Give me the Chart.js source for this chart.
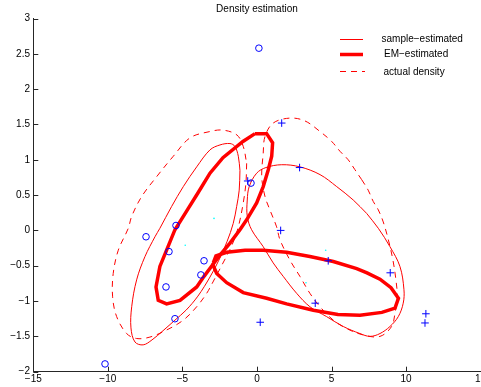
<!DOCTYPE html>
<html><head><meta charset="utf-8">
<script src="https://cdn.jsdelivr.net/npm/chart.js@4"></script>
<style>html,body{margin:0;padding:0;background:#fff;overflow:hidden}canvas{display:block}</style>
</head><body>
<canvas id="c" width="481" height="387"></canvas>
<script>
const titleText = 'Density estimation';
const legendLabels = ['sample\u2212estimated', 'EM\u2212estimated', 'actual density'];
const xTicks = [-15, -10, -5, 0, 5, 10, 15];
const yTicks = [-2, -1.5, -1, -0.5, 0, 0.5, 1, 1.5, 2, 2.5, 3];

const circles = [[0.13,2.58],[-7.44,-0.09],[-5.43,0.07],[-5.90,-0.30],[-3.55,-0.43],[-3.76,-0.63],[-6.10,-0.80],[-5.50,-1.25],[-10.19,-1.89],[-0.40,0.67]];
const pluses = [[1.66,1.52],[2.86,0.89],[-0.62,0.70],[1.59,0.00],[4.78,-0.43],[8.94,-0.60],[3.91,-1.03],[11.27,-1.31],[11.33,-1.18],[0.22,-1.30]];
const dots = [[-2.88,0.17],[-4.81,-0.21],[4.61,-0.28],[3.29,-0.74]];

const sampleLeft = [[-1.14,0.85],[-1.19,0.57],[-1.36,0.34],[-1.59,0.10],[-2.01,-0.16],[-2.55,-0.42],[-3.15,-0.66],[-3.96,-0.93],[-4.76,-1.13],[-5.50,-1.27],[-6.30,-1.42],[-7.04,-1.55],[-7.63,-1.62],[-8.18,-1.58],[-8.45,-1.38],[-8.40,-1.08],[-8.07,-0.70],[-7.51,-0.37],[-6.84,-0.09],[-6.51,0.03],[-5.72,0.34],[-4.94,0.62],[-4.04,0.90],[-3.15,1.14],[-2.48,1.21],[-1.81,1.23],[-1.48,1.19],[-1.25,1.05],[-1.14,0.85]];
const sampleRight = [[7.36,0.24],[8.14,0.03],[8.92,-0.23],[9.59,-0.51],[9.86,-0.84],[9.81,-1.03],[9.48,-1.22],[8.92,-1.36],[8.25,-1.46],[7.58,-1.50],[6.91,-1.46],[5.79,-1.36],[4.67,-1.22],[3.55,-1.08],[2.66,-0.89],[1.76,-0.65],[1.09,-0.46],[0.42,-0.23],[-0.36,0.01],[-0.65,0.20],[-0.65,0.43],[-0.52,0.62],[-0.02,0.81],[0.60,0.89],[1.66,0.93],[2.88,0.90],[4.23,0.79],[5.35,0.62],[6.46,0.43],[7.36,0.24]];
const emLeft = [[-0.13,1.37],[0.65,1.37],[1.05,1.24],[0.99,1.05],[0.76,0.86],[0.42,0.62],[-0.02,0.39],[-0.69,0.15],[-1.14,0.01],[-1.81,-0.18],[-2.48,-0.35],[-3.02,-0.50],[-3.55,-0.65],[-4.04,-0.80],[-5.16,-0.99],[-6.06,-1.04],[-6.62,-0.99],[-6.77,-0.80],[-6.51,-0.51],[-6.06,-0.28],[-5.50,0.01],[-4.76,0.26],[-3.96,0.53],[-3.15,0.81],[-2.28,1.03],[-0.94,1.26],[-0.13,1.37]];
const emRight = [[-2.93,-0.46],[-2.75,-0.36],[-2.03,-0.31],[-0.80,-0.28],[0.42,-0.28],[1.99,-0.31],[3.55,-0.37],[5.12,-0.44],[6.69,-0.54],[7.38,-0.60],[8.25,-0.69],[8.99,-0.81],[9.49,-0.96],[9.26,-1.10],[8.38,-1.16],[6.91,-1.20],[5.43,-1.19],[3.78,-1.13],[1.99,-1.04],[0.65,-0.96],[-0.92,-0.88],[-2.03,-0.74],[-2.70,-0.61],[-2.93,-0.50],[-2.93,-0.46]];
const actualLeft = [[-0.69,0.95],[-0.74,0.67],[-0.92,0.39],[-1.25,0.05],[-1.68,-0.21],[-2.35,-0.49],[-2.95,-0.73],[-3.37,-0.89],[-4.04,-1.08],[-4.94,-1.27],[-6.06,-1.41],[-7.18,-1.51],[-8.07,-1.53],[-8.74,-1.46],[-9.41,-1.22],[-9.68,-0.94],[-9.64,-0.61],[-9.30,-0.28],[-8.63,0.03],[-8.40,0.20],[-7.73,0.48],[-6.73,0.76],[-5.61,1.05],[-4.49,1.31],[-3.15,1.40],[-2.28,1.42],[-1.34,1.35],[-0.92,1.19],[-0.69,0.95]];
const actualRight = [[7.02,0.72],[7.46,0.57],[7.80,0.41],[8.14,0.29],[8.47,0.12],[8.81,-0.13],[9.12,-0.42],[9.32,-0.70],[9.41,-0.94],[9.26,-1.17],[9.03,-1.36],[8.25,-1.50],[7.13,-1.48],[6.02,-1.39],[5.12,-1.27],[4.23,-1.08],[3.55,-0.89],[2.88,-0.65],[2.21,-0.42],[1.54,-0.13],[1.32,0.05],[0.87,0.29],[0.54,0.48],[0.32,0.76],[0.42,1.09],[0.54,1.33],[1.09,1.52],[2.21,1.59],[3.22,1.55],[4.23,1.40],[5.01,1.26],[5.57,1.12],[6.12,1.00],[6.57,0.86],[7.02,0.72]];

const RED = '#ff0000', BLUE = '#0000ff', CYAN = '#00ffff';
const toPts = arr => arr.map(p => ({x: p[0], y: p[1]}));
const fmt = v => String(v).replace('-', '\u2212');

Chart.defaults.font.family = '"Liberation Sans", Arial, Helvetica, sans-serif';
Chart.defaults.font.size = 10;
Chart.defaults.color = '#000';

const curve = (data, width, dash, tension) => ({
  data: toPts(data), showLine: true, pointRadius: 0, pointHoverRadius: 0, borderColor: RED, backgroundColor: RED,
  borderWidth: width, borderDash: dash, tension: tension, fill: false
});

const deco = {
  id: 'deco',
  afterDraw(chart) {
    const ctx = chart.ctx, a = chart.chartArea, xs = chart.scales.x, ys = chart.scales.y;
    ctx.save();
    ctx.strokeStyle = '#262626'; ctx.lineWidth = 1;
    ctx.beginPath();
    yTicks.forEach(v => { const p = Math.round(ys.getPixelForValue(v)) + 0.5; ctx.moveTo(a.left, p); ctx.lineTo(a.left + 5, p); });
    xTicks.forEach(v => { const p = Math.round(xs.getPixelForValue(v)) + 0.5; ctx.moveTo(p, a.bottom); ctx.lineTo(p, a.bottom - 5); });
    ctx.stroke();
    ctx.fillStyle = '#000';
    ctx.font = '10px "Liberation Sans", Arial, sans-serif';
    ctx.textAlign = 'center'; ctx.textBaseline = 'middle';
    ctx.fillText(titleText, (a.left + a.right) / 2, 9);
    // legend
    ctx.strokeStyle = RED;
    ctx.lineWidth = 1; ctx.setLineDash([]);
    ctx.beginPath(); ctx.moveTo(340, 39.5); ctx.lineTo(363, 39.5); ctx.stroke();
    ctx.lineWidth = 3.5;
    ctx.beginPath(); ctx.moveTo(340, 54.5); ctx.lineTo(363, 54.5); ctx.stroke();
    ctx.lineWidth = 1; ctx.setLineDash([6, 5]);
    ctx.beginPath(); ctx.moveTo(340, 71.5); ctx.lineTo(365, 71.5); ctx.stroke();
    ctx.setLineDash([]);
    ctx.textAlign = 'left';
    ctx.fillText(legendLabels[0], 381.5, 39);
    ctx.fillText(legendLabels[1], 384, 54);
    ctx.fillText(legendLabels[2], 383.5, 72.3);
    ctx.restore();
  }
};

new Chart(document.getElementById('c'), {
  type: 'scatter',
  data: {
    datasets: [
      {data: toPts(circles), pointStyle: 'circle', pointRadius: 3.3, pointHoverRadius: 3.3, borderColor: BLUE, backgroundColor: 'rgba(0,0,0,0)', borderWidth: 1},
      {data: toPts(pluses), pointStyle: 'cross', pointRadius: 3.8, pointHoverRadius: 3.8, borderColor: BLUE, backgroundColor: BLUE, borderWidth: 1},
      {data: toPts(dots), pointStyle: 'circle', pointRadius: 0.8, pointHoverRadius: 0.8, borderColor: CYAN, backgroundColor: CYAN, borderWidth: 0},
      curve(emLeft, 3.5, [], 0),
      curve(emRight, 3.5, [], 0),
      curve(sampleLeft, 1, [], 0.35),
      curve(sampleRight, 1, [], 0.35),
      curve(actualLeft, 1, [6, 5], 0.35),
      curve(actualRight, 1, [6, 5], 0.35)
    ]
  },
  options: {
    responsive: false, devicePixelRatio: 1, animation: false, events: [],
    layout: {autoPadding: false, padding: {left: 0, right: 0.4, top: 18.5, bottom: 0}},
    plugins: {legend: {display: false}, tooltip: {enabled: false}, title: {display: false}},
    scales: {
      x: {
        type: 'linear', min: -15, max: 15,
        grid: {display: true, drawOnChartArea: false, drawTicks: false},
        border: {display: true, color: '#262626', width: 1},
        afterBuildTicks: s => { s.ticks = xTicks.map(v => ({value: v})); },
        ticks: {padding: 2, maxRotation: 0, autoSkip: false, callback: v => fmt(v)},
        afterFit: s => { s.height = 15.3; s.paddingLeft = 0; s.paddingRight = 0; }
      },
      y: {
        type: 'linear', min: -2, max: 3,
        grid: {display: true, drawOnChartArea: false, drawTicks: false},
        border: {display: true, color: '#262626', width: 1},
        afterBuildTicks: s => { s.ticks = yTicks.map(v => ({value: v})); },
        ticks: {padding: 3.3, autoSkip: false, callback: v => fmt(v)},
        afterFit: s => { s.width = 33.3; s.paddingTop = 0; s.paddingBottom = 0; }
      }
    }
  },
  plugins: [deco]
});
</script>
</body></html>
